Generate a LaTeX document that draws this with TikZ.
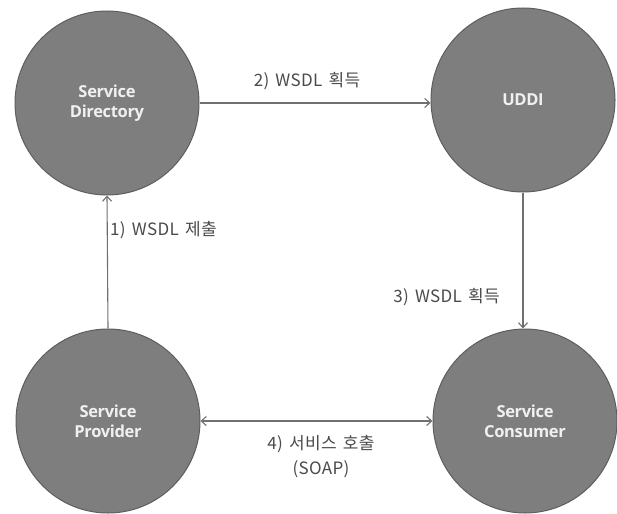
\documentclass[tikz,border=0pt]{standalone}
\usepackage{fontspec}
\setmainfont{Open Sans}
\newfontfamily\kr{Noto Sans CJK KR}[LetterSpace=2, WordSpace=1.5]
\newfontfamily\circfont{Open Sans}[LetterSpace=-2]
\usetikzlibrary{arrows.meta}
\definecolor{circfill}{HTML}{7E7E7E}
\definecolor{circedge}{HTML}{5E5E5E}
\definecolor{linec}{HTML}{707070}
\definecolor{textc}{HTML}{4A4A4A}
\begin{document}
\begin{tikzpicture}[x=1pt,y=-1pt,
  svc/.style={circle, fill=circfill, draw=circedge, line width=1pt, minimum size=184pt, inner sep=0pt,
    text=white!94!black, font=\circfont\bfseries\fontsize{16.5}{20}\selectfont, align=center},
  conn/.style={draw=linec, line width=1.1pt},
  tip/.style={-{Straight Barb[length=5pt,width=9pt]}},
  lbl/.style={text=textc, font=\kr\fontsize{17}{25}\selectfont, inner sep=0pt, align=center}]
\useasboundingbox (0,0) rectangle (617,513);
\node[svc] (dir) at (107,103) {Service\\Directory};
\node[svc] (uddi) at (523,100) {UDDI};
\node[svc] (prov) at (108,421) {Service\\Provider};
\node[svc] (cons) at (525,421) {Service\\Consumer};
\draw[conn,tip] (prov.north) -- (dir.south);
\node[lbl, anchor=west] (l1) at (110,230) {1) WSDL 제출};
\draw[conn,tip] (dir.east) -- (dir.east -| uddi.west);
\node[lbl] (l2) at (307,81) {2) WSDL 획득};
\draw[conn,tip] (uddi.south) -- (uddi.south |- cons.north);
\node[lbl, anchor=east] (l3) at (500,297) {3) WSDL 획득};
\draw[conn,{Straight Barb[length=5pt,width=9pt]}-{Straight Barb[length=5pt,width=9pt]}] (prov.east) -- (prov.east -| cons.west);
\node[lbl] (l4) at (321,457) {4) 서비스 호출\\(SOAP)};
\end{tikzpicture}
\end{document}
